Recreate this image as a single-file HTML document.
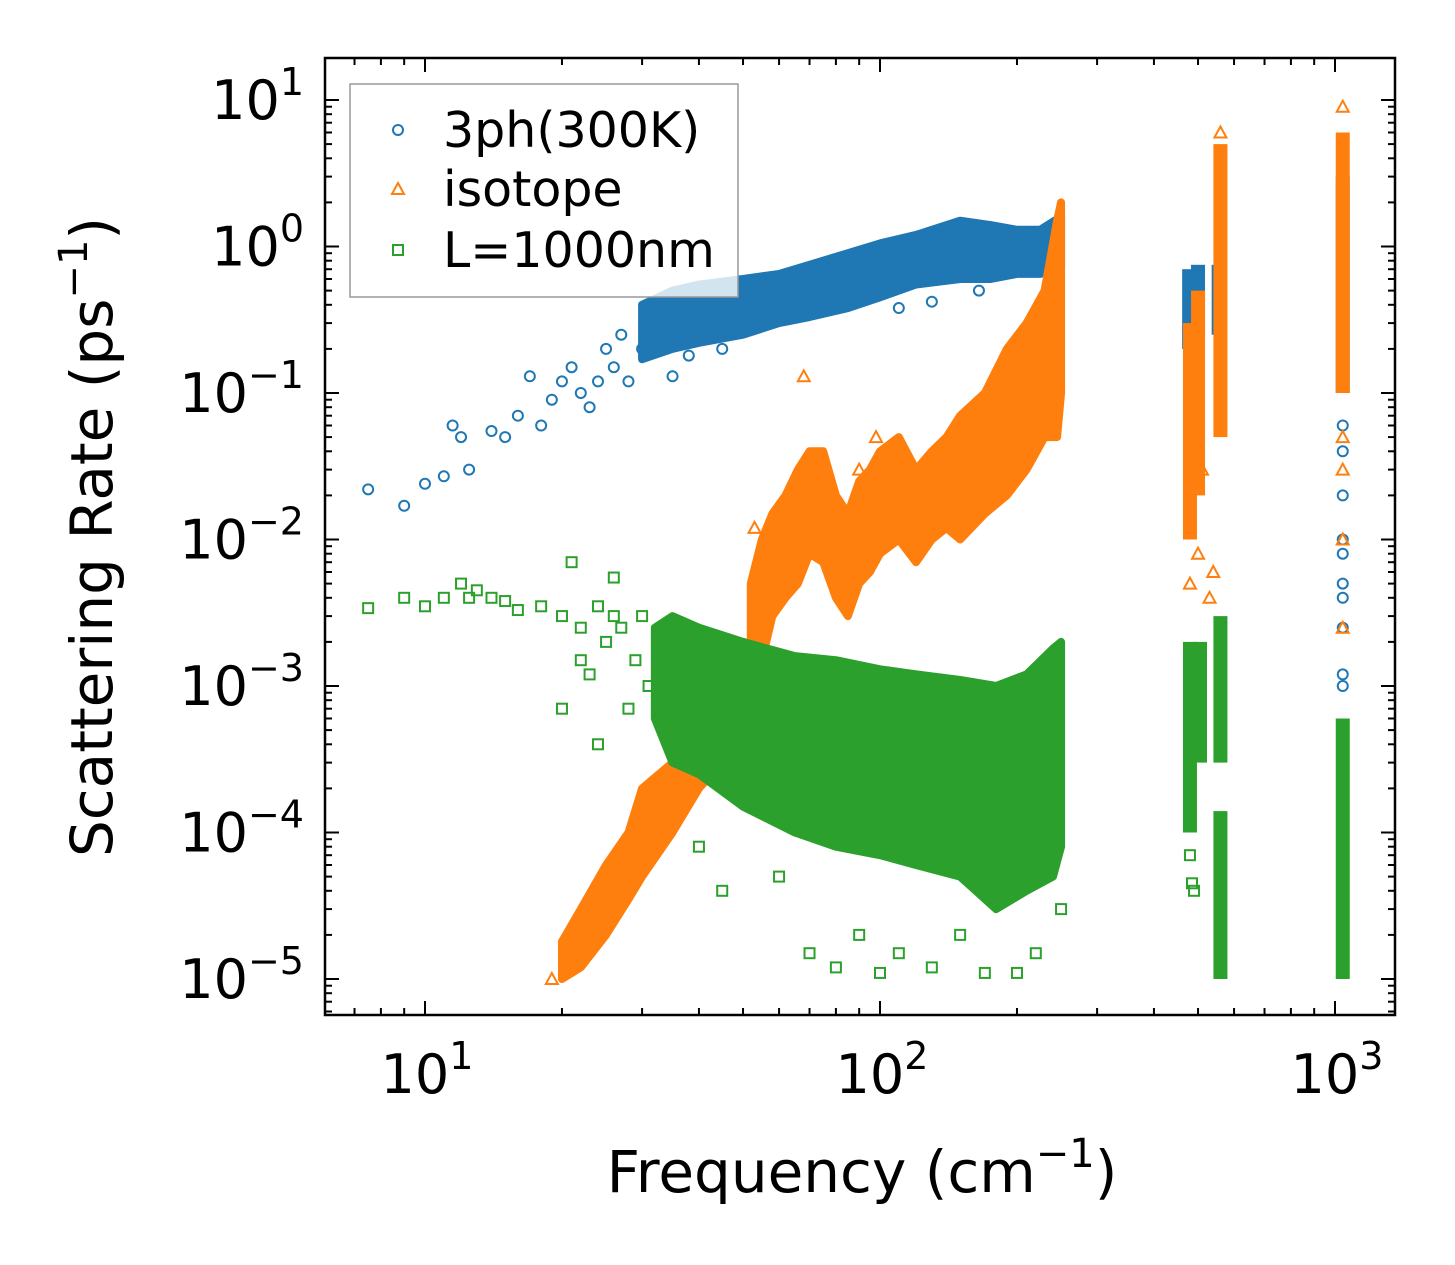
<!DOCTYPE html>
<html><head><meta charset="utf-8"><style>
html,body{margin:0;padding:0;background:#fff;}
svg{display:block;font-family:"DejaVu Sans","Liberation Sans",sans-serif;}
</style></head><body>
<svg id="chart" width="1455" height="1265" viewBox="0 0 1455 1265" xmlns="http://www.w3.org/2000/svg">
<rect width="1455" height="1265" fill="#fff"/>
<g id="plot"></g>
<g id="axes"></g>
<text x="862" y="1192" font-size="58" text-anchor="middle">Frequency (cm<tspan dy="-25" font-size="40">−1</tspan><tspan dy="25">)</tspan></text>
<text transform="translate(112,537) rotate(-90)" font-size="58" text-anchor="middle">Scattering Rate (ps<tspan dy="-25" font-size="40">−1</tspan><tspan dy="25">)</tspan></text>
<g>
<rect x="350" y="84" width="388" height="213" fill="#fff" fill-opacity="0.8" stroke="#999" stroke-width="1.5"/>
<circle cx="398" cy="130" r="5" fill="none" stroke="#1f77b4" stroke-width="2"/>
<text x="443" y="147" font-size="49">3ph(300K)</text>
<path d="M398,183 L404,194 L392,194 Z" fill="none" stroke="#ff7f0e" stroke-width="2"/>
<text x="443" y="206" font-size="49">isotope</text>
<rect x="393" y="245" width="10" height="10" fill="none" stroke="#2ca02c" stroke-width="2"/>
<text x="443" y="267" font-size="49">L=1000nm</text>
</g>
</svg>
<script>
// ---- data ----
const blueBandX  = [30, 35, 40, 50, 60, 70, 85, 100, 120, 150, 175, 200, 225, 250];
const blueBandLo = [0.17,0.2,0.22,0.25,0.3,0.33,0.38,0.45,0.55,0.6,0.6,0.65,0.65,0.7];
const blueBandHi = [0.4,0.5,0.55,0.6,0.65,0.75,0.9,1.05,1.2,1.5,1.4,1.3,1.3,1.6];
const blueColX  = [478, 500, 555, 1040];
const blueColLo = [0.2, 0.25, 0.25, 0.1];
const blueColHi = [0.7, 0.75, 0.75, 3.0];
const blueX = [7.5,9,10,11,11.5,12,12.5,14,15,16,17,18,19,20,21,22,23,24,25,26,27,28,30,32,35,38,45,110,130,165,1040,1040,1040,1040,1040,1040,1040,1040,1040,1040];
const blueY = [0.022,0.017,0.024,0.027,0.06,0.05,0.03,0.055,0.05,0.07,0.13,0.06,0.09,0.12,0.15,0.1,0.08,0.12,0.2,0.15,0.25,0.12,0.2,0.3,0.13,0.18,0.2,0.38,0.42,0.5,0.06,0.04,0.02,0.01,0.008,0.005,0.004,0.0025,0.0012,0.001];

const orBandX  = [52,55,58,62,66,70,75,80,85,90,95,100,110,120,130,140,150,170,190,210,230,245,250];
const orBandLo = [0.002,0.0015,0.003,0.004,0.005,0.008,0.007,0.004,0.003,0.005,0.006,0.008,0.01,0.007,0.01,0.012,0.01,0.015,0.02,0.03,0.05,0.05,0.1];
const orBandHi = [0.005,0.01,0.015,0.02,0.03,0.04,0.04,0.02,0.015,0.025,0.03,0.04,0.05,0.03,0.04,0.05,0.07,0.1,0.2,0.3,0.5,1.5,2.0];
const orLowX  = [20,22,25,28,30,35,40,45,50];
const orLowLo = [1e-5,1.2e-5,2e-5,3.5e-5,5e-5,1e-4,2e-4,3e-4,5e-4];
const orLowHi = [1.8e-5,3e-5,6e-5,1e-4,2e-4,3e-4,5e-4,1e-3,2e-3];
const orColX  = [480, 500, 560, 1040];
const orColLo = [0.01, 0.02, 0.05, 0.1];
const orColHi = [0.3, 0.5, 5.0, 6.0];
const orX = [19,21,53,68,90,98,480,500,530,540,510,1040,1040,1040,1040,560,1040];
const orY = [1e-5,1.3e-5,0.012,0.13,0.03,0.05,0.005,0.008,0.004,0.006,0.03,0.0025,0.01,0.03,0.05,6,9];

const grBandX  = [32,35,40,50,65,80,100,120,150,180,210,240,250];
const grBandLo = [6e-4,3e-4,2.5e-4,1.5e-4,1e-4,8e-5,7e-5,6e-5,5e-5,3e-5,4e-5,5e-5,8e-5];
const grBandHi = [2.5e-3,3e-3,2.5e-3,2e-3,1.6e-3,1.5e-3,1.3e-3,1.2e-3,1.1e-3,1e-3,1.2e-3,1.8e-3,2e-3];
const grColX  = [480, 505, 560, 560, 1040];
const grColLo = [1e-4, 3e-4, 3e-4, 1e-5, 1e-5];
const grColHi = [2e-3, 2e-3, 3e-3, 1.4e-4, 6e-4];
const grX = [7.5,9,10,11,12,12.5,13,14,15,16,18,20,21,22,23,24,26,28,30,60,70,80,90,100,110,130,150,170,200,220,45,40,250,480,485,490,20,22,25,27,29,26,24,31];
const grY = [0.0034,0.004,0.0035,0.004,0.005,0.004,0.0045,0.004,0.0038,0.0033,0.0035,0.0007,0.007,0.0015,0.0012,0.0004,0.0055,0.0007,0.003,5e-5,1.5e-5,1.2e-5,2e-5,1.1e-5,1.5e-5,1.2e-5,2e-5,1.1e-5,1.1e-5,1.5e-5,4e-5,8e-5,3e-5,7e-5,4.5e-5,4e-5,0.003,0.0025,0.002,0.0025,0.0015,0.003,0.0035,0.001];

const xTicks = [1,2,3];
const yTicks = [1,0,-1,-2,-3,-4,-5];

// ---- axes functions ----
const L=325,R=1395,T=58,B=1015;
function xs(v){return 425+(Math.log10(v)-1)*455;}
function ys(v){return 100-(Math.log10(v)-1)*146.5;}
const NS="http://www.w3.org/2000/svg";
const plot=document.getElementById('plot'), axes=document.getElementById('axes');
function mk(tag,attrs,parent){const e=document.createElementNS(NS,tag);for(const k in attrs)e.setAttribute(k,attrs[k]);parent.appendChild(e);return e;}

function band(X,Lo,Hi,color,name){
  let d='M'+X.map((x,i)=>xs(x)+','+ys(Lo[i])).join(' L');
  for(let i=X.length-1;i>=0;i--) d+=' L'+xs(X[i])+','+ys(Hi[i]);
  const p=mk('path',{d:d+'Z',fill:color,stroke:color,'stroke-width':8,'stroke-linejoin':'round'},plot);
  
  
}
function cols(X,Lo,Hi,color,name){
  X.forEach((x,i)=>{
    const r=mk('rect',{x:xs(x)-7,y:ys(Hi[i]),width:14,height:ys(Lo[i])-ys(Hi[i]),fill:color},plot);
    
    
  });
}
function pts(X,Y,color,shape,name){
  X.forEach((x,i)=>{
    const cx=xs(x),cy=ys(Y[i]);let e;
    if(shape==='c') e=mk('circle',{cx:cx,cy:cy,r:5,fill:'none',stroke:color,'stroke-width':2},plot);
    else if(shape==='t') e=mk('path',{d:`M${cx},${cy-6} L${cx+6},${cy+5} L${cx-6},${cy+5}Z`,fill:'none',stroke:color,'stroke-width':2},plot);
    else e=mk('rect',{x:cx-5,y:cy-5,width:10,height:10,fill:'none',stroke:color,'stroke-width':2},plot);
    
    
  });
}
const BL='#1f77b4',OR='#ff7f0e',GR='#2ca02c';
band(blueBandX,blueBandLo,blueBandHi,BL,'3ph-band');
cols(blueColX,blueColLo,blueColHi,BL,'3ph-column');
pts(blueX,blueY,BL,'c','3ph-point');
band(orBandX,orBandLo,orBandHi,OR,'isotope-band');
band(orLowX,orLowLo,orLowHi,OR,'isotope-low-band');
cols(orColX,orColLo,orColHi,OR,'isotope-column');
pts(orX,orY,OR,'t','isotope-point');
band(grBandX,grBandLo,grBandHi,GR,'boundary-band');
cols(grColX,grColLo,grColHi,GR,'boundary-column');
pts(grX,grY,GR,'s','boundary-point');

const fr=mk('rect',{x:L,y:T,width:R-L,height:B-T,fill:'none',stroke:'#000','stroke-width':2.5},axes);


for(let dec=0;dec<=3;dec++){for(let m=1;m<10;m++){
  const v=m*Math.pow(10,dec);const x=xs(v);if(x<L||x>R)continue;
  const len=m===1?14:7;
  mk('line',{x1:x,y1:B,x2:x,y2:B-len,stroke:'#000','stroke-width':2},axes);
  mk('line',{x1:x,y1:T,x2:x,y2:T+len,stroke:'#000','stroke-width':2},axes);
}}
xTicks.forEach(p=>{
  const t=mk('text',{x:xs(Math.pow(10,p))+2,y:1093,'font-size':54,'text-anchor':'middle'},axes);
  
  
  t.innerHTML='10<tspan dy="-24" font-size="38">'+p+'</tspan>';
});
for(let dec=-6;dec<=1;dec++){for(let m=1;m<10;m++){
  const v=m*Math.pow(10,dec);const y=ys(v);if(y<T||y>B)continue;
  const len=m===1?14:7;
  mk('line',{x1:L,y1:y,x2:L+len,y2:y,stroke:'#000','stroke-width':2},axes);
  mk('line',{x1:R,y1:y,x2:R-len,y2:y,stroke:'#000','stroke-width':2},axes);
}}
yTicks.forEach(p=>{
  const t=mk('text',{x:304,y:ys(Math.pow(10,p))+19,'font-size':54,'text-anchor':'end'},axes);
  
  
  t.innerHTML='10<tspan dy="-24" font-size="38">'+(p<0?'−'+(-p):p)+'</tspan>';
});
</script>
</body></html>
